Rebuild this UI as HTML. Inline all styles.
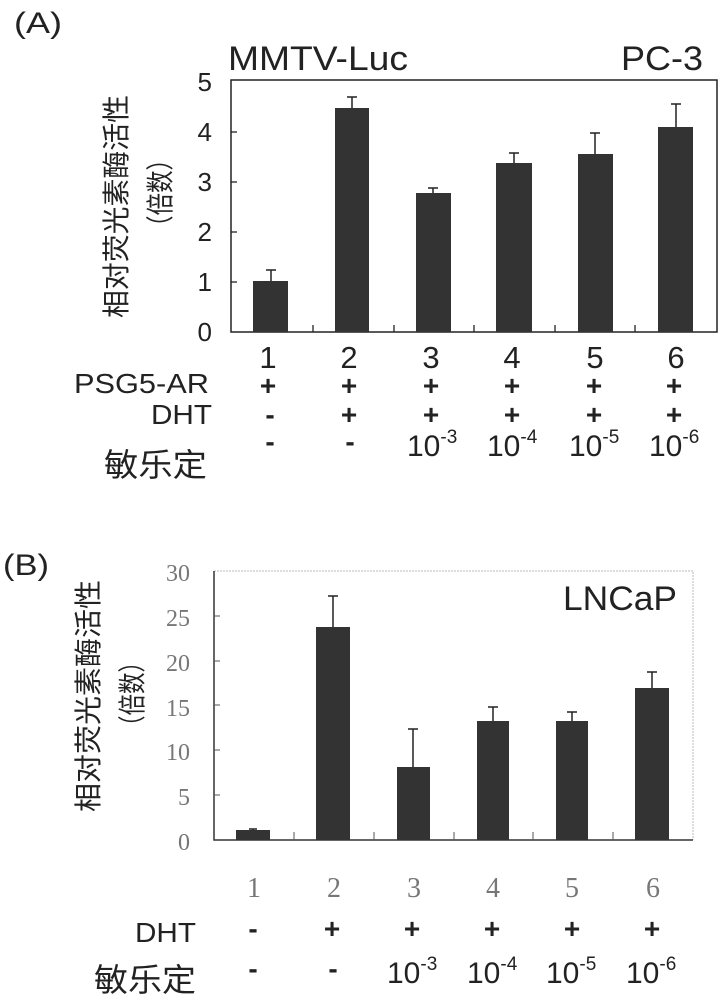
<!DOCTYPE html>
<html><head><meta charset="utf-8"><style>
html,body{margin:0;padding:0;background:#fff}
svg{display:block}
.s{font-family:"Liberation Sans","Noto Sans CJK SC",sans-serif;fill:#222}
.r{font-family:"Liberation Serif",serif;fill:#777}
</style></head><body>
<svg width="721" height="1000" viewBox="0 0 721 1000" xmlns="http://www.w3.org/2000/svg">
<!-- Panel A -->
<text class="s" x="14" y="33" font-size="30" textLength="48" lengthAdjust="spacingAndGlyphs">(A)</text>
<text class="s" x="228" y="70" font-size="34" textLength="180" lengthAdjust="spacingAndGlyphs">MMTV-Luc</text>
<text class="s" x="621" y="70" font-size="34" textLength="82" lengthAdjust="spacingAndGlyphs">PC-3</text>
<rect x="231" y="80" width="486" height="252" fill="none" stroke="#222" stroke-width="1.5"/>
<g stroke="#222" stroke-width="1.3">
<line x1="231" y1="282" x2="237" y2="282"/><line x1="231" y1="232" x2="237" y2="232"/><line x1="231" y1="182" x2="237" y2="182"/><line x1="231" y1="132" x2="237" y2="132"/>
<line x1="313" y1="332" x2="313" y2="325"/><line x1="394" y1="332" x2="394" y2="325"/><line x1="474" y1="332" x2="474" y2="325"/><line x1="555" y1="332" x2="555" y2="325"/><line x1="635" y1="332" x2="635" y2="325"/>
</g>
<g class="s" font-size="26" text-anchor="end">
<text x="212" y="341">0</text><text x="212" y="291">1</text><text x="212" y="241">2</text><text x="212" y="191">3</text><text x="212" y="141">4</text><text x="212" y="91">5</text>
</g>
<g fill="#333">
<rect x="253" y="281" width="35" height="51"/>
<rect x="335" y="108" width="34" height="224"/>
<rect x="416" y="193" width="35" height="139"/>
<rect x="496" y="163" width="36" height="169"/>
<rect x="578" y="154" width="35" height="178"/>
<rect x="658" y="127" width="35" height="205"/>
</g>
<g stroke="#222" stroke-width="1.5">
<path d="M271 281V270M266 270H276"/>
<path d="M352 108V97M347 97H357"/>
<path d="M433 193V188M428 188H438"/>
<path d="M514 163V153M509 153H519"/>
<path d="M595 154V133M590 133H600"/>
<path d="M676 127V104M671 104H681"/>
</g>
<text class="s" font-size="28" transform="translate(126,318) rotate(-90)" textLength="223" lengthAdjust="spacingAndGlyphs">相对荧光素酶活性</text>
<text class="s" font-size="28" transform="translate(170,238) rotate(-90)" textLength="90" lengthAdjust="spacingAndGlyphs">（倍数）</text>
<g class="s" font-size="31" text-anchor="middle">
<text x="268" y="368">1</text><text x="349" y="368">2</text><text x="431" y="368">3</text><text x="512" y="368">4</text><text x="595" y="368">5</text><text x="676" y="368">6</text>
</g>
<text class="s" x="74" y="393" font-size="28" textLength="135" lengthAdjust="spacingAndGlyphs">PSG5-AR</text>
<text class="s" x="151" y="424" font-size="28" textLength="61" lengthAdjust="spacingAndGlyphs">DHT</text>
<text class="s" x="104" y="476" font-size="32" textLength="103" lengthAdjust="spacingAndGlyphs">敏乐定</text>
<g class="s" font-size="28" text-anchor="middle" font-weight="bold">
<text x="268" y="395">+</text><text x="349" y="395">+</text><text x="431" y="395">+</text><text x="512" y="395">+</text><text x="594" y="395">+</text><text x="674" y="395">+</text>
<text x="270" y="424">-</text><text x="349" y="424">+</text><text x="431" y="424">+</text><text x="512" y="424">+</text><text x="594" y="424">+</text><text x="674" y="424">+</text>
<text x="270" y="451">-</text><text x="350" y="451">-</text>
</g>
<g class="s" font-size="30">
<text x="407" y="456">10<tspan font-size="19" dy="-13">-3</tspan></text>
<text x="487" y="456">10<tspan font-size="19" dy="-13">-4</tspan></text>
<text x="569" y="456">10<tspan font-size="19" dy="-13">-5</tspan></text>
<text x="649" y="456">10<tspan font-size="19" dy="-13">-6</tspan></text>
</g>
<!-- Panel B -->
<text class="s" x="3" y="575" font-size="30" textLength="46" lengthAdjust="spacingAndGlyphs">(B)</text>
<path d="M214 571H693V840" fill="none" stroke="#bbb" stroke-width="1" stroke-dasharray="2,1"/>
<path d="M214 571V840H693" fill="none" stroke="#333" stroke-width="1.5"/>
<g stroke="#555" stroke-width="1">
<line x1="214" y1="795" x2="220" y2="795"/><line x1="214" y1="750" x2="220" y2="750"/><line x1="214" y1="705" x2="220" y2="705"/><line x1="214" y1="661" x2="220" y2="661"/><line x1="214" y1="616" x2="220" y2="616"/>
<line x1="294" y1="840" x2="294" y2="832"/><line x1="374" y1="840" x2="374" y2="832"/><line x1="454" y1="840" x2="454" y2="832"/><line x1="533" y1="840" x2="533" y2="832"/><line x1="613" y1="840" x2="613" y2="832"/>
</g>
<g class="r" font-size="24" text-anchor="end">
<text x="190" y="850">0</text><text x="190" y="805">5</text><text x="190" y="760">10</text><text x="190" y="716">15</text><text x="190" y="671">20</text><text x="190" y="626">25</text><text x="190" y="581">30</text>
</g>
<text class="s" x="563" y="610" font-size="34" textLength="114" lengthAdjust="spacingAndGlyphs">LNCaP</text>
<g fill="#333">
<rect x="236" y="830" width="34" height="10"/>
<rect x="316" y="627" width="34" height="213"/>
<rect x="397" y="767" width="33" height="73"/>
<rect x="477" y="721" width="32" height="119"/>
<rect x="556" y="721" width="32" height="119"/>
<rect x="635" y="688" width="34" height="152"/>
</g>
<g stroke="#222" stroke-width="1.5">
<path d="M253 830V829M249 829H257"/>
<path d="M333 627V596M328 596H338"/>
<path d="M413 767V729M408 729H418"/>
<path d="M493 721V707M488 707H498"/>
<path d="M572 721V712M567 712H577"/>
<path d="M652 688V672M647 672H657"/>
</g>
<text class="s" font-size="28" transform="translate(98,812) rotate(-90)" textLength="232" lengthAdjust="spacingAndGlyphs">相对荧光素酶活性</text>
<text class="s" font-size="28" transform="translate(142,737) rotate(-90)" textLength="86" lengthAdjust="spacingAndGlyphs">（倍数）</text>
<g class="r" font-size="28" text-anchor="middle">
<text x="254" y="897">1</text><text x="334" y="897">2</text><text x="414" y="897">3</text><text x="493" y="897">4</text><text x="572" y="897">5</text><text x="653" y="897">6</text>
</g>
<text class="s" x="135" y="942" font-size="28" textLength="61" lengthAdjust="spacingAndGlyphs">DHT</text>
<text class="s" x="94" y="991" font-size="32" textLength="102" lengthAdjust="spacingAndGlyphs">敏乐定</text>
<g class="s" font-size="28" text-anchor="middle" font-weight="bold">
<text x="253" y="938">-</text><text x="332" y="938">+</text><text x="412" y="938">+</text><text x="492" y="938">+</text><text x="572" y="938">+</text><text x="652" y="938">+</text>
<text x="253" y="978">-</text><text x="333" y="978">-</text>
</g>
<g class="s" font-size="30">
<text x="387" y="983">10<tspan font-size="19" dy="-13">-3</tspan></text>
<text x="467" y="983">10<tspan font-size="19" dy="-13">-4</tspan></text>
<text x="546" y="983">10<tspan font-size="19" dy="-13">-5</tspan></text>
<text x="626" y="983">10<tspan font-size="19" dy="-13">-6</tspan></text>
</g>
</svg>
</body></html>
